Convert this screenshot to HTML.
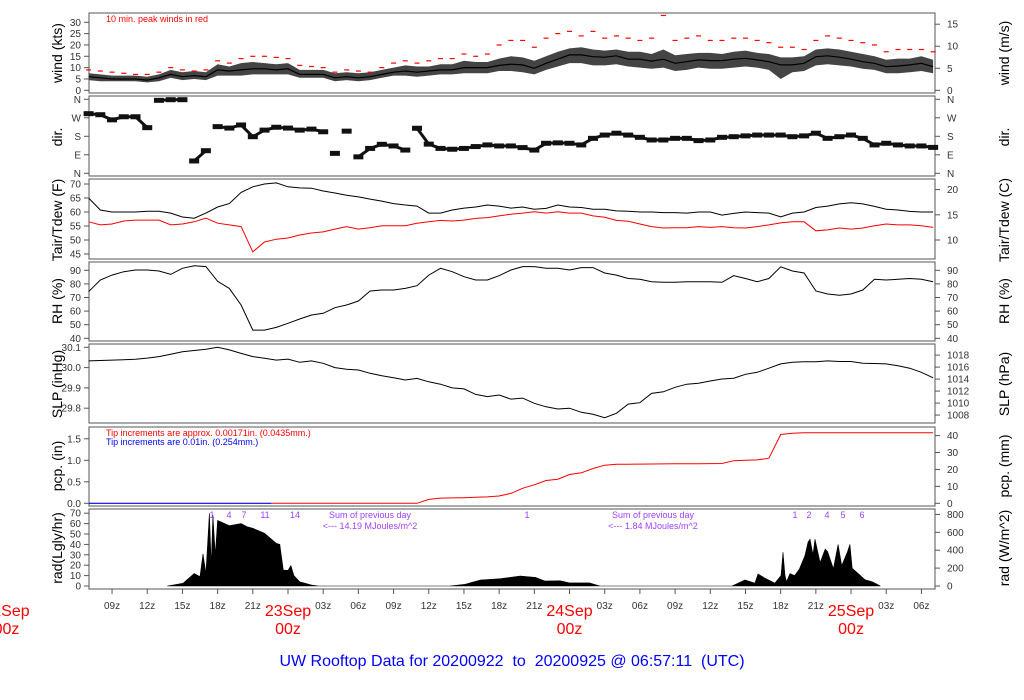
<!DOCTYPE html>
<html><head><meta charset="utf-8"><title>UW Rooftop Data</title>
<style>
html,body{margin:0;padding:0;background:#fff;}
svg{display:block;font-family:"Liberation Sans",Arial,sans-serif;}
</style></head>
<body>
<svg id="chart" width="1024" height="700" viewBox="0 0 1024 700" xmlns="http://www.w3.org/2000/svg">
<g id="frames"></g>
<g id="marks"></g>
<g id="axes"></g>
<text x="106" y="22" font-size="9" fill="#ff0000">10 min. peak winds in red</text>
<text x="106" y="436" font-size="9" fill="#ff0000">Tip increments are approx. 0.00171in. (0.0435mm.)</text>
<text x="106" y="445" font-size="9" fill="#0000ff">Tip increments are 0.01in. (0.254mm.)</text>
<g font-size="9" fill="#a040ff">
<text x="212" y="518" text-anchor="middle">1</text><text x="229" y="518" text-anchor="middle">4</text><text x="244" y="518" text-anchor="middle">7</text><text x="265" y="518" text-anchor="middle">11</text><text x="295" y="518" text-anchor="middle">14</text>
<text x="370" y="518" text-anchor="middle">Sum of previous day</text><text x="370" y="529" text-anchor="middle">&lt;--- 14.19 MJoules/m^2</text>
<text x="527" y="518" text-anchor="middle">1</text>
<text x="653" y="518" text-anchor="middle">Sum of previous day</text><text x="653" y="529" text-anchor="middle">&lt;--- 1.84 MJoules/m^2</text>
<text x="795" y="518" text-anchor="middle">1</text><text x="809" y="518" text-anchor="middle">2</text><text x="827" y="518" text-anchor="middle">4</text><text x="843" y="518" text-anchor="middle">5</text><text x="862" y="518" text-anchor="middle">6</text>
</g>
<text x="512" y="666" font-size="16" fill="#0000ff" text-anchor="middle" xml:space="preserve">UW Rooftop Data for 20200922  to  20200925 @ 06:57:11  (UTC)</text>
</svg>
<script>
// hours since 22Sep 00z, h = 7..79
const hours = [];
for (let h = 7; h <= 79; h++) hours.push(h);
const windMean = [6,5.5,5,5,5,4.5,5.5,7,6,6.5,6,9,8.5,9,9.5,9.5,9,9.5,7,7,7,5.5,6,5.5,6,7,8,8.5,8,8.5,9,9,10,10,10,11,11.5,11.2,9.7,11.9,13.7,15.6,15.6,14.8,14.6,15.2,13.7,13.7,12.9,13.7,11.9,12.6,13.4,13.1,13.1,13.7,14.1,13.4,12.6,11.2,11.2,11.9,14.8,15.2,14.6,13.7,12.6,11.9,10.4,10.7,11.2,11.9,10.4];
const windMax = [7.5,7,6.5,6.5,6.5,6,7,9,8,8.5,8,11.5,10.5,12,12.5,12,11.5,12,9,9,9,7.5,8,7.5,8,9,10,11,10.5,10.5,11.5,11.5,13,12.5,12.5,14,15,14.5,13,15,17,18.5,19,18,17.5,18,17,17,16,18,15.5,16,16.5,16.5,16,17,17.5,16.5,16,14.5,14.5,15,18,18.5,18,17,16,15,13.5,14,14,15,13.5];
const windMin = [4.5,4,4,4,4,3.5,4,5.5,4.5,5,4.5,6.5,6.5,6.5,7,7,7,7,5.5,5.5,5.5,4,4.5,4,4.5,5.5,6.5,6.5,6,6.5,7,7,7.5,7.5,7.5,8.5,8.5,8,7,9,10.5,12,12,11,11,11.5,10.5,10,9.5,10,8.5,9,10,9.5,9.5,10,10.5,10,9,5,8,8.5,11,11.5,11,10.5,9.5,9,7.5,7.5,8,8.5,7.5];
const windPeak = [9,8.5,8,7.5,7,7,8,10,9,8.5,9,13,12,14,15,15,14.5,14,11,10.5,10,8,9,8.5,8,10,12,13,12,13,14,14,16,15,16,20,22,22,19,23,25,26,24,26,23,24,23,22,23,33,22,23,24,22,22,23,23,22,21,19,19,18,22,24,23,22,21,20,17,18,18,18,17];
const windDir = [290,285,260,275,275,222,355,358,358,60,110,227,220,235,178,210,224,220,210,215,202,97,205,80,121,141,133,113,219,142,121,117,121,130,138,133,133,125,113,146,148,146,138,170,186,195,186,175,162,162,170,170,159,162,175,178,182,186,186,186,178,182,195,170,178,186,170,138,146,138,133,133,126];
const tair = [65,60.7,60,60,60,60.3,60.3,59.6,58.2,57.8,59.6,61.8,63,67,69,70,70.4,69,68.6,68.5,67.5,66.8,66,65.4,64.6,63.9,63,62.5,62.1,59.6,59.6,60.7,61.4,61.8,62.5,62.1,61.4,61.8,61,61.3,62.5,61.8,61.6,61,61,60.4,60.3,60,60,59.8,59.8,59.6,60,60,58.9,59.5,60,59.8,59.6,58.3,59.6,60,61.6,62.1,62.9,63.3,62.9,62,61,60.7,60.2,60,60];
const tdew = [56.5,55.4,55.7,56.8,57.1,57.1,57.1,55.4,55.7,56.5,57.8,56,55.4,54.8,45.8,49.3,50.3,50.7,51.8,52.5,52.9,53.9,54.8,53.9,54.4,55.1,55.1,55.1,56,56.5,57,56.8,57.1,57.7,58,58.6,59.2,59.6,60.1,59.6,60.1,59.6,59.6,58.6,58.1,57,56.7,55.7,54.8,54.3,54.4,54.4,54.8,54.5,54.8,54.4,54.3,54.8,55.4,56.1,56.5,56.5,53.3,53.6,54.3,53.9,54.3,55.1,55.7,55.4,55.4,55.1,54.5];
const rh = [74.3,82.9,86.5,89,90.2,90.2,89.5,87,91.5,93.4,92.7,81.9,76.7,64.5,46,46,48,51,54.2,57.1,58.4,62.5,64.5,67.4,74.8,75.5,75.5,76.7,78.7,86.5,91.5,89,85.3,82.9,82.9,86,90.2,92.7,92.7,91.5,91.5,90.2,92,92,88,86.5,84,83.4,81.6,81.2,81.2,81.6,81.6,81.6,81.2,86,84,81.6,84,92.6,89.5,88,74.8,72.6,71.7,72.6,75.5,83.4,82.9,83.4,84,83.4,81.6];
const slp = [30.033,30.035,30.037,30.039,30.041,30.047,30.054,30.066,30.078,30.084,30.09,30.10,30.087,30.07,30.054,30.046,30.037,30.042,30.026,30.033,30.021,30.0,29.992,29.988,29.972,29.96,29.95,29.939,29.947,29.93,29.918,29.9,29.895,29.868,29.857,29.865,29.845,29.85,29.824,29.807,29.796,29.8,29.78,29.77,29.753,29.775,29.82,29.827,29.873,29.881,29.903,29.918,29.923,29.934,29.944,29.948,29.967,29.977,29.997,30.018,30.026,30.029,30.029,30.033,30.03,30.03,30.021,30.02,30.018,30.009,29.997,29.977,29.95];
const pcp = [0,0,0,0,0,0,0,0,0,0,0,0,0,0,0,0,0,0,0,0,0,0,0,0,0,0,0,0,0,0.09,0.12,0.125,0.13,0.14,0.15,0.17,0.23,0.35,0.43,0.53,0.56,0.67,0.71,0.81,0.885,0.91,0.91,0.912,0.914,0.916,0.918,0.92,0.922,0.924,0.925,0.99,1.0,1.01,1.05,1.6,1.63,1.64,1.64,1.64,1.64,1.64,1.64,1.64,1.64,1.64,1.64,1.64,1.64];
const pcpBlueEnd = 22.6;
const radTimes = [13.7,15.05,16,16.5,16.75,17,17.3,17.45,17.6,17.8,18,19,20,20.5,21,22,23,23.3,23.6,24,24.25,24.5,25,26,26.6,37.8,39.1,40.4,41.2,42.1,43.8,45.1,45.9,47.2,48,49.7,50.6,61.85,62.96,63.8,64.07,64.66,65.5,66.03,66.2,66.37,66.5,66.8,67.2,67.6,68.07,68.33,68.5,68.76,68.93,69.36,69.8,70,70.5,70.9,71.2,71.7,71.9,72.1,72.6,73.2,73.8,74.5];
const radVals = [0,2.6,12,9,31,12,70,20,68,30,63,58,60,57,55.5,50.7,41,40,15.4,15,19.6,10,4,1,0,0,1.6,5.8,6.3,7,9.6,8.3,4.8,5,3,3,0,0,5.8,2.7,11.6,7.5,2.7,10,32.6,10,4,12,10,16.3,29,42,45,30,45,22.5,35.5,33,16.6,40,19.6,33,40,17,12,6,4,0];
const windTicks = [0,5,10,15,20,25,30];
const windMsTicks = [0,5,10,15];
const dirTicks = [0,90,180,270,360];
const dirLabels = ['N','E','S','W','N'];
const tempTicks = [45,50,55,60,65,70];
const tempCTicks = [10,15,20];
const rhTicks = [40,50,60,70,80,90];
const slpTicks = [29.8,29.9,30.0,30.1];
const slpLabels = ['29.8','29.9','30.0','30.1'];
const hpaTicks = [1008,1010,1012,1014,1016,1018];
const pcpTicks = [0,0.5,1.0,1.5];
const pcpLabels = ['0.0','0.5','1.0','1.5'];
const mmTicks = [0,10,20,30,40];
const radTicks = [0,10,20,30,40,50,60,70];
const wm2Ticks = [0,200,400,600,800];
const timeTicks = [9,12,15,18,21,27,30,33,36,39,42,45,51,54,57,60,63,66,69,75,78];
const timeLabels = ['09z','12z','15z','18z','21z','03z','06z','09z','12z','15z','18z','21z','03z','06z','09z','12z','15z','18z','21z','03z','06z'];
const dayTicks = [0,24,48,72];
const dayLabels = ['22Sep','23Sep','24Sep','25Sep'];

const NS = 'http://www.w3.org/2000/svg';
const X = h => 288 + (h - 24) * 11.73;
const yWind = v => 90.3 - v * 2.267;
const yDir = d => 173.3 - d * 0.2056;
const yTemp = f => 184 + (70 - f) * 2.8;
const yRH = r => 270.3 + (90 - r) * 1.36;
const ySLP = p => 347.3 + (30.1 - p) * 203;
const yPcp = v => 503.3 - v * 43;
const yRad = v => 586 - v * 1.04;
const frames = document.getElementById('frames');
const marks = document.getElementById('marks');
const axes = document.getElementById('axes');
function mk(tag, parent, attrs) {
  const e = document.createElementNS(NS, tag);
  for (const k in attrs) e.setAttribute(k, attrs[k]);
  parent.appendChild(e);
  return e;
}
const panels = [
  ['wind-panel',13,93],['dir-panel',96,176],['temp-panel',179,259],['rh-panel',262,341],
  ['slp-panel',344,423],['pcp-panel',427,506],['rad-panel',509,589]];
panels.forEach(p => {
  const r = mk('rect', frames, {x:89, y:p[1], width:846, height:p[2]-p[1], fill:'none', stroke:'#555', 'stroke-width':1});
  
  
});
function line(vals, yf, color, name, w) {
  const pts = vals.map((v,i) => X(hours[i]).toFixed(1) + ',' + yf(v).toFixed(1)).join(' ');
  const e = mk('polyline', marks, {points:pts, fill:'none', stroke:color, 'stroke-width':w||1});
  
  
}
// wind band
{
  let pts = windMax.map((v,i)=>X(hours[i]).toFixed(1)+','+yWind(v).toFixed(1));
  for (let i = windMin.length-1; i >= 0; i--) pts.push(X(hours[i]).toFixed(1)+','+yWind(windMin[i]).toFixed(1));
  const e = mk('polygon', marks, {points:pts.join(' '), fill:'#444', stroke:'none'});
  
  
}
line(windMean, yWind, '#000', 'wind-mean-line', 1.2);
windPeak.forEach((v,i) => {
  const e = mk('line', marks, {x1:X(hours[i])-2.5, x2:X(hours[i])+2.5, y1:yWind(v), y2:yWind(v), stroke:'#ff0000', 'stroke-width':1.2});
  
  
});
// direction
for (let i = 0; i < windDir.length; i++) {
  const x = X(hours[i]);
  const e = mk('rect', marks, {x:x-5, y:yDir(windDir[i])-2.5, width:10, height:5, fill:'#111'});
  
  
  if (i > 0 && Math.abs(windDir[i]-windDir[i-1]) < 100) {
    const l = mk('line', marks, {x1:X(hours[i-1]), y1:yDir(windDir[i-1]), x2:x, y2:yDir(windDir[i]), stroke:'#111', 'stroke-width':3});
    
    
  }
}
line(tair, yTemp, '#000', 'tair-line');
line(tdew, yTemp, '#ff0000', 'tdew-line');
line(rh, yRH, '#000', 'rh-line');
line(slp, ySLP, '#000', 'slp-line');
{
  const b = mk('line', marks, {x1:89, x2:X(pcpBlueEnd), y1:yPcp(0), y2:yPcp(0), stroke:'#0000ff', 'stroke-width':1.2});
  
  
  const pts = [];
  pts.push(X(pcpBlueEnd).toFixed(1)+','+yPcp(0).toFixed(1));
  pcp.forEach((v,i)=>{ if (hours[i] > pcpBlueEnd) pts.push(X(hours[i]).toFixed(1)+','+yPcp(v).toFixed(1)); });
  const r = mk('polyline', marks, {points:pts.join(' '), fill:'none', stroke:'#ff0000', 'stroke-width':1});
  
  
}
{
  const pts = [X(radTimes[0]).toFixed(1)+','+yRad(0)];
  radTimes.forEach((t,i)=>pts.push(X(t).toFixed(1)+','+yRad(radVals[i]).toFixed(1)));
  pts.push(X(radTimes[radTimes.length-1]).toFixed(1)+','+yRad(0));
  const e = mk('polygon', marks, {points:pts.join(' '), fill:'#000', stroke:'#000', 'stroke-width':0.6});
  
  
}
// axes
function yAxis(ticks, labels, yf, side, name) {
  const g = mk('g', axes, {});
  
  
  ticks.forEach((t,i) => {
    const y = yf(t);
    if (side === 'left') {
      mk('line', g, {x1:84, x2:89, y1:y, y2:y, stroke:'#555'});
      const tx = mk('text', g, {x:81, y:y+3.5, 'font-size':10, fill:'#333', 'text-anchor':'end'});
      tx.textContent = labels[i];
    } else {
      mk('line', g, {x1:935, x2:940, y1:y, y2:y, stroke:'#555'});
      const tx = mk('text', g, {x:947, y:y+3.5, 'font-size':10, fill:'#333'});
      tx.textContent = labels[i];
    }
  });
}
yAxis(windTicks, windTicks.map(String), yWind, 'left', 'wind-kts-axis');
yAxis(windMsTicks, windMsTicks.map(String), v => yWind(v*1.9438), 'right', 'wind-ms-axis');
yAxis(dirTicks, dirLabels, yDir, 'left', 'dir-axis-left');
yAxis(dirTicks, dirLabels, yDir, 'right', 'dir-axis-right');
yAxis(tempTicks, tempTicks.map(String), yTemp, 'left', 'temp-f-axis');
yAxis(tempCTicks, tempCTicks.map(String), c => yTemp(c*1.8+32), 'right', 'temp-c-axis');
yAxis(rhTicks, rhTicks.map(String), yRH, 'left', 'rh-axis-left');
yAxis(rhTicks, rhTicks.map(String), yRH, 'right', 'rh-axis-right');
yAxis(slpTicks, slpLabels, ySLP, 'left', 'slp-inhg-axis');
yAxis(hpaTicks, hpaTicks.map(String), v => ySLP(v/33.8639), 'right', 'slp-hpa-axis');
yAxis(pcpTicks, pcpLabels, yPcp, 'left', 'pcp-in-axis');
yAxis(mmTicks, mmTicks.map(String), v => yPcp(v/25.4), 'right', 'pcp-mm-axis');
yAxis(radTicks, radTicks.map(String), yRad, 'left', 'rad-lgly-axis');
yAxis(wm2Ticks, wm2Ticks.map(String), v => yRad(v*0.08604), 'right', 'rad-wm2-axis');
const titles = [
  ['wind (kts)','wind (m/s)',53],['dir.','dir.',137],['Tair/Tdew (F)','Tair/Tdew (C)',220],
  ['RH (%)','RH (%)',301],['SLP (inHg)','SLP (hPa)',384],['pcp. (in)','pcp. (mm)',466],['rad(Lgly/hr)','rad (W/m^2)',548]];
titles.forEach(t => {
  const a = mk('text', axes, {x:0, y:0, 'font-size':14, fill:'#000', 'text-anchor':'middle', transform:'translate(62,'+t[2]+') rotate(-90)'});
  a.textContent = t[0];
  
  
  const b = mk('text', axes, {x:0, y:0, 'font-size':14, fill:'#000', 'text-anchor':'middle', transform:'translate(1009,'+t[2]+') rotate(-90)'});
  b.textContent = t[1];
  
  
});
const xg = mk('g', axes, {});


timeTicks.forEach((h,i) => {
  mk('line', xg, {x1:X(h), x2:X(h), y1:589, y2:594, stroke:'#555'});
  const t = mk('text', xg, {x:X(h), y:609, 'font-size':10, fill:'#333', 'text-anchor':'middle'});
  t.textContent = timeLabels[i];
});
dayTicks.forEach((h,i) => {
  if (X(h) > 89) mk('line', xg, {x1:X(h), x2:X(h), y1:589, y2:594, stroke:'#555'});
  const a = mk('text', xg, {x:X(h), y:616, 'font-size':16, fill:'#ff0000', 'text-anchor':'middle'});
  a.textContent = dayLabels[i];
  
  
  const b = mk('text', xg, {x:X(h), y:634, 'font-size':16, fill:'#ff0000', 'text-anchor':'middle'});
  b.textContent = '00z';
  
  
});
</script>
</body></html>
